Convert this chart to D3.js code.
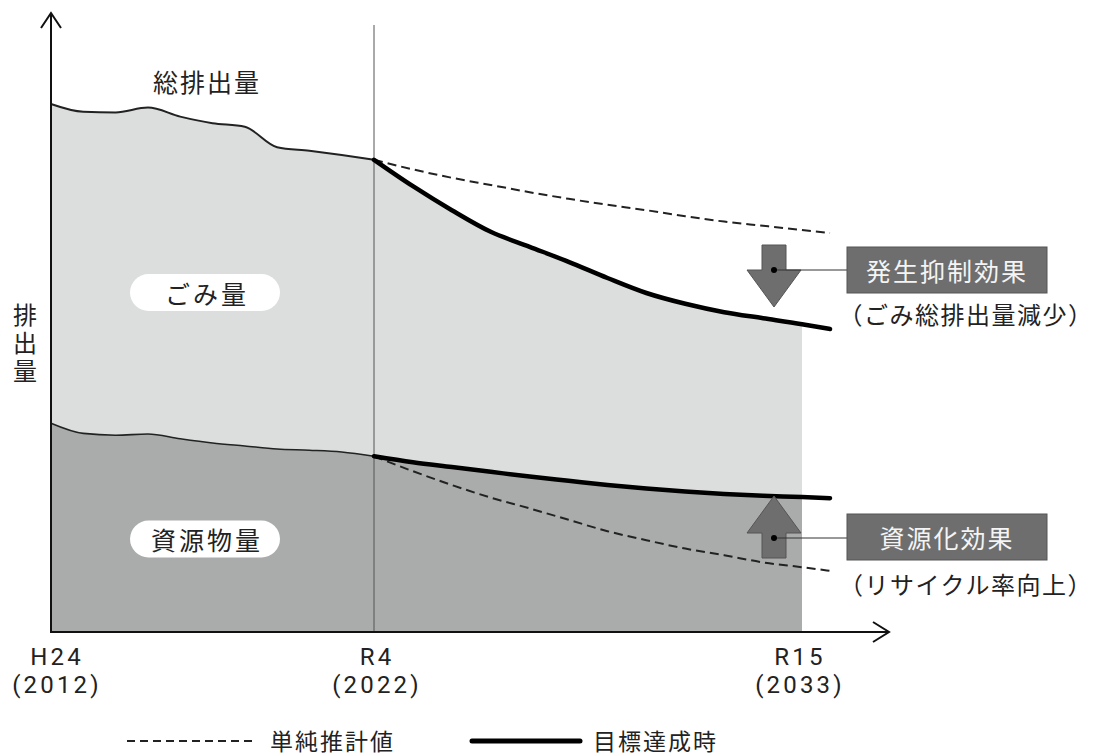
<!DOCTYPE html>
<html lang="ja">
<head>
<meta charset="utf-8">
<script src="https://cdn.jsdelivr.net/npm/d3@7"></script>
<style>
  html, body { margin: 0; padding: 0; background: #fff; }
  svg { display: block; font-family: "Noto Sans CJK JP", "Noto Sans", sans-serif; }
</style>
</head>
<body>
<svg id="chart" width="1096" height="756"></svg>
<script>
// Historical period (H24–R4)
const histYears = [2012, 2013, 2014, 2015, 2016, 2017, 2018, 2019, 2020, 2021, 2022];
const totalHist = [88.0, 86.7, 86.6, 87.4, 85.9, 84.8, 84.2, 80.8, 80.2, 79.5, 78.7];
const resourceHist = [34.8, 33.1, 32.8, 33.0, 32.2, 31.5, 31.0, 30.5, 30.3, 30.0, 29.3];

// Projection period (R4–R15, lines run a little past R15)
const futureYears = [2022, 2023, 2024, 2025, 2026, 2027, 2028, 2029, 2030, 2031, 2032, 2033, 2034];
const totalTarget = [78.7, 74.3, 70.3, 66.7, 64.2, 61.7, 59.0, 56.5, 54.7, 53.3, 52.3, 51.3, 50.5];
const totalBaseline = [78.7, 77.1, 75.7, 74.5, 73.3, 72.2, 71.2, 70.3, 69.3, 68.4, 67.7, 67.0, 66.5];
const resourceTarget = [29.3, 28.3, 27.5, 26.7, 25.9, 25.2, 24.5, 23.9, 23.4, 23.0, 22.7, 22.5, 22.3];
const resourceBaseline = [29.3, 26.8, 24.5, 22.4, 20.6, 18.7, 16.8, 15.3, 13.9, 12.8, 11.6, 10.8, 10.2];

// Axis labels
const tickYears = [2012, 2022, 2033];
const tickEra = ["H24", "R4", "R15"];
const tickWestern = ["(2012)", "(2022)", "(2033)"];
const fillEndYear = 2033;

const svg = d3.select("#chart");
const ink = "#222";

const x = d3.scaleLinear().domain([2012, 2022, 2033, 2034]).range([51, 374, 802, 830]);
const y = d3.scaleLinear().domain([0, 100]).range([632, 32]);

// Combined series for the filled areas (through R15)
const fillRows = [];
histYears.forEach((yr, i) => fillRows.push({ yr, total: totalHist[i], res: resourceHist[i] }));
futureYears.forEach((yr, i) => {
  if (yr > 2022 && yr <= fillEndYear) fillRows.push({ yr, total: totalTarget[i], res: resourceTarget[i] });
});

const curve = d3.curveMonotoneX;

svg.append("path")
  .datum(fillRows)
  .attr("fill", "#dcdddd")
  .attr("d", d3.area().curve(curve).x(d => x(d.yr)).y0(d => y(d.res)).y1(d => y(d.total)));

svg.append("path")
  .datum(fillRows)
  .attr("fill", "#aaabab")
  .attr("d", d3.area().curve(curve).x(d => x(d.yr)).y0(y(0)).y1(d => y(d.res)));

// R4 divider
svg.append("line")
  .attr("x1", x(2022)).attr("x2", x(2022))
  .attr("y1", 25).attr("y2", y(0))
  .attr("stroke", "#555").attr("stroke-width", 1);

const line = (xs, vs) => d3.line().curve(curve).x((d, i) => x(xs[i])).y(d => y(d))(vs);

// Historical boundaries
svg.append("path").attr("d", line(histYears, totalHist))
  .attr("fill", "none").attr("stroke", ink).attr("stroke-width", 2);
svg.append("path").attr("d", line(histYears, resourceHist))
  .attr("fill", "none").attr("stroke", ink).attr("stroke-width", 1.6);

// Simple projection (dashed)
[totalBaseline, resourceBaseline].forEach(vals => {
  svg.append("path").attr("d", line(futureYears, vals))
    .attr("fill", "none").attr("stroke", ink).attr("stroke-width", 2)
    .attr("stroke-dasharray", "9,5");
});

// Target case (thick)
[totalTarget, resourceTarget].forEach(vals => {
  svg.append("path").attr("d", line(futureYears, vals))
    .attr("fill", "none").attr("stroke", "#000").attr("stroke-width", 4.5)
    .attr("stroke-linecap", "round").attr("stroke-linejoin", "round");
});

// Axes with open arrowheads
const axes = svg.append("g").attr("stroke", "#111").attr("stroke-width", 2).attr("fill", "none");
axes.append("line").attr("x1", x(2012)).attr("x2", x(2012)).attr("y1", y(0) + 1).attr("y2", 13);
axes.append("path").attr("d", `M${x(2012) - 10},28 L${x(2012)},13 L${x(2012) + 10},28`);
axes.append("line").attr("x1", x(2012) - 1).attr("x2", 889).attr("y1", y(0)).attr("y2", y(0));
axes.append("path").attr("d", `M873,${y(0) - 10} L889,${y(0)} L873,${y(0) + 10}`);

// Tick labels (era name over western year)
const ticks = svg.append("g").attr("fill", ink).attr("text-anchor", "middle")
  .attr("font-family", "Roboto, 'DejaVu Sans', sans-serif")
  .attr("font-size", 24).attr("letter-spacing", 3.2);
tickYears.forEach((yr, i) => {
  const cx = x(yr) + (i === 0 ? 6 : i === 1 ? 3 : -2);
  ticks.append("text").attr("x", cx).attr("y", 657).attr("dominant-baseline", "central").text(tickEra[i]);
  ticks.append("text").attr("x", cx).attr("y", 685).attr("dominant-baseline", "central").text(tickWestern[i]);
});

// Vertical y-axis title
svg.append("text")
  .attr("x", 25).attr("y", 345)
  .style("writing-mode", "vertical-rl")
  .attr("text-anchor", "middle")
  .attr("font-size", 24).attr("letter-spacing", 4)
  .attr("fill", ink).text("排出量");

// Area labels
svg.append("text").attr("x", 207).attr("y", 81)
  .attr("text-anchor", "middle").attr("dominant-baseline", "central")
  .attr("font-size", 25).attr("letter-spacing", 2).attr("fill", ink).text("総排出量");

function pill(cx, cy, label) {
  svg.append("rect").attr("x", cx - 75).attr("y", cy - 18.5).attr("width", 150).attr("height", 37)
    .attr("rx", 18.5).attr("fill", "#fff");
  svg.append("text").attr("x", cx + 2).attr("y", cy)
    .attr("text-anchor", "middle").attr("dominant-baseline", "central")
    .attr("font-size", 25).attr("letter-spacing", 3).attr("fill", ink).text(label);
}
pill(205, 292.5, "ごみ量");
pill(205, 539, "資源物量");

// Effect callouts
const arrowX = 774;
function arrow(dir, baseY) {
  // dir = 1 points down, -1 points up; baseY is the shaft end
  const s = dir;
  const pts = [
    [arrowX - 12, baseY], [arrowX + 12, baseY],
    [arrowX + 12, baseY + s * 25], [arrowX + 27, baseY + s * 25],
    [arrowX, baseY + s * 62], [arrowX - 27, baseY + s * 25],
    [arrowX - 12, baseY + s * 25]
  ];
  svg.append("polygon").attr("points", pts.map(p => p.join(",")).join(" "))
    .attr("fill", "#6e6e6e").attr("stroke", "#555").attr("stroke-width", 1);
}
arrow(1, 245);
arrow(-1, 558);

function callout(dotY, boxY, label, sub, subY) {
  svg.append("line").attr("x1", arrowX).attr("x2", 847).attr("y1", dotY).attr("y2", dotY)
    .attr("stroke", "#333").attr("stroke-width", 1);
  svg.append("circle").attr("cx", arrowX).attr("cy", dotY).attr("r", 3).attr("fill", "#000");
  svg.append("rect").attr("x", 847).attr("y", boxY).attr("width", 200).attr("height", 46)
    .attr("fill", "#6e6e6e").attr("stroke", "#555").attr("stroke-width", 1);
  svg.append("text").attr("x", 947).attr("y", boxY + 23)
    .attr("text-anchor", "middle").attr("dominant-baseline", "central")
    .attr("font-size", 25).attr("letter-spacing", 2).attr("fill", "#f4f4f4").text(label);
  svg.append("text").attr("x", 966).attr("y", subY)
    .attr("text-anchor", "middle").attr("dominant-baseline", "central")
    .attr("font-size", 24).attr("letter-spacing", 1.5).attr("fill", ink).text(sub);
}
callout(270, 247, "発生抑制効果", "（ごみ総排出量減少）", 313);
callout(538, 514, "資源化効果", "（リサイクル率向上）", 583);

// Legend
const legend = svg.append("g");
legend.append("line").attr("x1", 127).attr("x2", 253).attr("y1", 741).attr("y2", 741)
  .attr("stroke", ink).attr("stroke-width", 2).attr("stroke-dasharray", "8,5");
legend.append("text").attr("x", 270).attr("y", 740).attr("dominant-baseline", "central")
  .attr("font-size", 23).attr("letter-spacing", 2).attr("fill", ink).text("単純推計値");
legend.append("line").attr("x1", 472).attr("x2", 580).attr("y1", 741).attr("y2", 741)
  .attr("stroke", "#000").attr("stroke-width", 5).attr("stroke-linecap", "round");
legend.append("text").attr("x", 593).attr("y", 740).attr("dominant-baseline", "central")
  .attr("font-size", 23).attr("letter-spacing", 2).attr("fill", ink).text("目標達成時");
</script>
</body>
</html>
